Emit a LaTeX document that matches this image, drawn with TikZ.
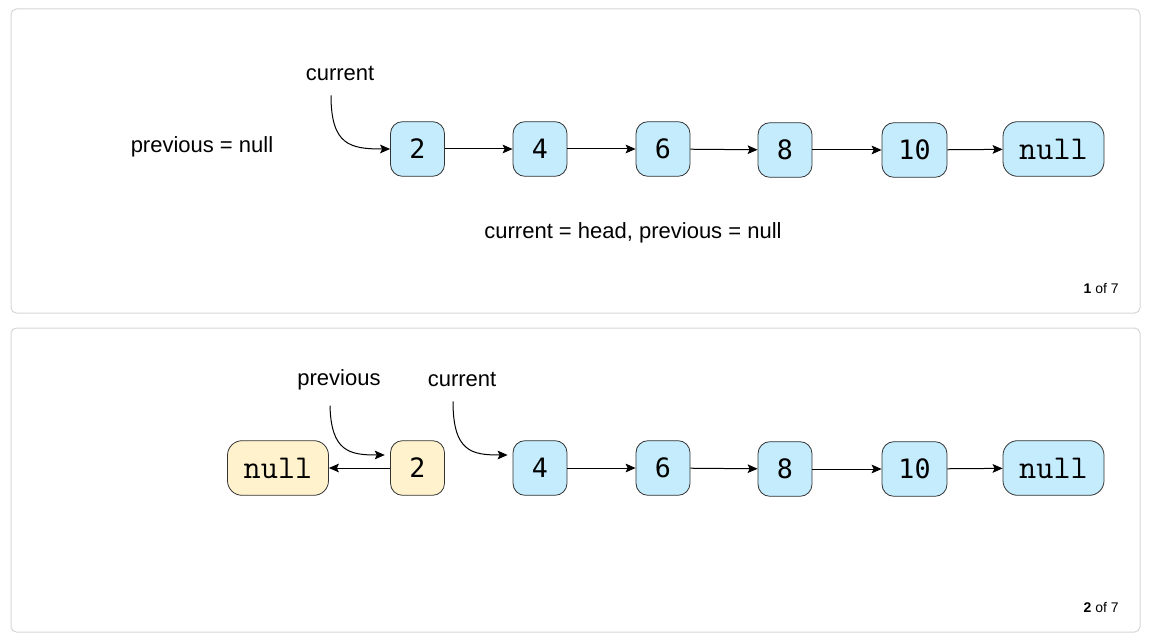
\documentclass[tikz,border=0pt]{standalone}
\usepackage{fontspec}
\setmainfont{Liberation Sans}
\newfontfamily\digitfont{DejaVu Sans Mono}
\usetikzlibrary{arrows.meta}
\definecolor{cellblue}{RGB}{196,236,253}
\definecolor{cellyellow}{RGB}{255,242,204}
\definecolor{panelgray}{RGB}{214,214,214}

\begin{document}
\begin{tikzpicture}[x=0.75pt, y=-0.75pt,
        cell/.style={draw=black!80, line width=0.6pt, fill=cellblue, rounded corners=9pt,
            minimum width=40.5pt, minimum height=41pt, inner sep=0pt,
            font=\digitfont\fontsize{20}{20}\selectfont},
        wide/.style={minimum width=48.75pt},
        nullcell/.style={cell, minimum width=75.75pt, rounded corners=11pt,
            font=\ttfamily\fontsize{25}{25}\selectfont},
        done/.style={fill=cellyellow},
        txt/.style={font=\fontsize{16.5}{20}\selectfont, inner sep=0pt},
        counter/.style={anchor=east, font=\fontsize{10.5}{12}\selectfont, inner sep=0pt},
        link/.style={-{Stealth[length=7.5pt,width=6.5pt,inset=1.5pt]}, line width=0.75pt},
        panel/.style={draw=panelgray, line width=0.75pt, rounded corners=4pt}]
    \useasboundingbox (0,0) rectangle (1151,641);
    \draw[panel] (11,9) rectangle (1140,313);
    \draw[panel] (11,328) rectangle (1140,632);

    % step 1
    \node[txt] (prev1) at (202,147) {previous = null};
    \node[txt] (cur1) at (340,73) {current};
    \node[cell] (a2) at (417.5,149) {2};
    \node[cell] (a4) at (540,149) {4};
    \node[cell] (a6) at (663,149) {6};
    \node[cell] (a8) at (785,150) {8};
    \node[cell, wide] (a10) at (914.5,150) {10};
    \node[nullcell] (anull) at (1053.5,149) {null};
    \foreach \u/\v in {a2/a4, a4/a6, a6/a8, a8/a10, a10/anull}
        \draw[link] (\u) -- (\v);
    \draw[link] ([xshift=-6.75pt,yshift=-11.25pt]cur1.south) .. controls (331,145) and (350,149) .. (a2.west);
    \node[txt] (cap1) at (633,233) {current = head, previous = null};
    \node[counter] (cnt1) at (1119,289) {\textbf{1} of 7};

    % step 2
    \node[txt] (prev2) at (339,380) {previous};
    \node[txt] (cur2) at (462,379) {current};
    \node[nullcell, done] (bnull0) at (278,468) {null};
    \node[cell, done] (b2) at (417.5,468) {2};
    \node[cell] (b4) at (540,468) {4};
    \node[cell] (b6) at (663,468) {6};
    \node[cell] (b8) at (785,469) {8};
    \node[cell, wide] (b10) at (914.5,469) {10};
    \node[nullcell] (bnull) at (1053.5,468) {null};
    \draw[link] (b2) -- (bnull0);
    \foreach \u/\v in {b4/b6, b6/b8, b8/b10, b10/bnull}
        \draw[link] (\u) -- (\v);
    \draw[link] ([xshift=-6.75pt,yshift=-11.25pt]prev2.south) .. controls (331,452) and (350,455) .. ([xshift=-4pt,yshift=9.75pt]b2.west);
    \draw[link] ([xshift=-6.75pt,yshift=-11.25pt]cur2.south) .. controls (453,452) and (472,455) .. ([xshift=-3.75pt,yshift=9.75pt]b4.west);
    \node[counter] (cnt2) at (1119,607) {\textbf{2} of 7};
\end{tikzpicture}
\end{document}
